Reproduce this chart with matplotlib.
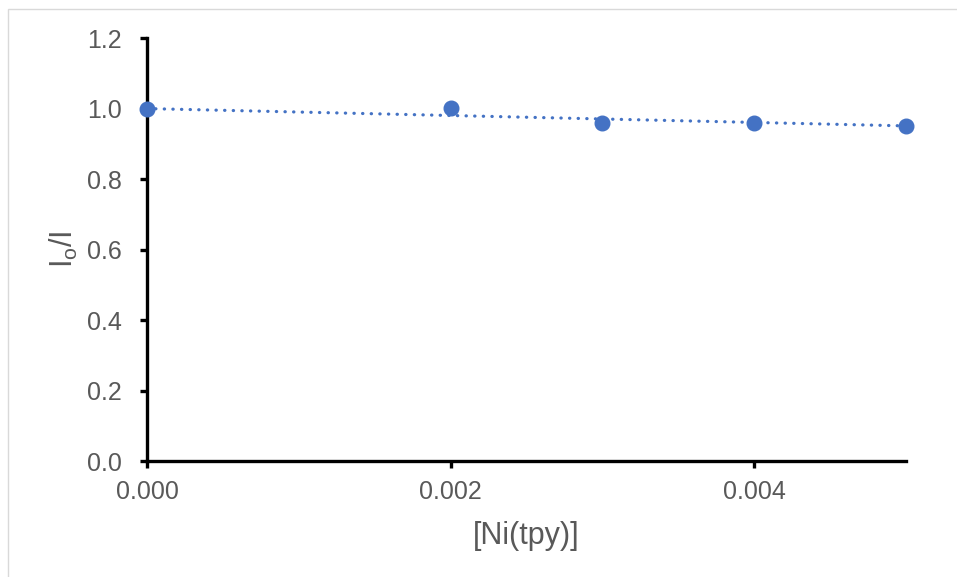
import numpy as np
import matplotlib
matplotlib.use("Agg")
import matplotlib.pyplot as plt
from matplotlib.patches import Rectangle

# data
conc = [0.000, 0.002, 0.003, 0.004, 0.005]
ratio = [1.000, 1.001, 0.960, 0.958, 0.951]
x_ticks = [0.000, 0.002, 0.004]
y_ticks = [0.0, 0.2, 0.4, 0.6, 0.8, 1.0, 1.2]

blue = "#4472C4"
grey = "#595959"

plt.rcParams['font.family'] = ['Liberation Sans', 'DejaVu Sans']

fig = plt.figure(figsize=(9.57, 5.77), dpi=100)
ax = fig.add_axes([0.1536, 0.201, 0.7931, 0.733])

# linear trendline, intercept fixed at 1 (Stern-Volmer style)
x = np.array(conc)
y = np.array(ratio)
slope = np.sum(x * (y - 1)) / np.sum(x * x)
xs = np.array([conc[0], conc[-1]])
ax.plot(xs, 1 + slope * xs, color=blue, linewidth=2.3,
        linestyle=(0, (0.1, 2.6)), dash_capstyle='round', zorder=2)

ax.plot(conc, ratio, 'o', color=blue, markersize=10.5, zorder=3,
        clip_on=False)

ax.set_xlim(0, 0.005)
ax.set_ylim(0, 1.2)
ax.set_xticks(x_ticks)
ax.set_xticklabels([f"{v:.3f}" for v in x_ticks])
ax.set_yticks(y_ticks)
ax.set_yticklabels([f"{v:.1f}" for v in y_ticks])

for s in ['top', 'right']:
    ax.spines[s].set_visible(False)
for s in ['left', 'bottom']:
    ax.spines[s].set_linewidth(2.4)
    ax.spines[s].set_color('black')

ax.tick_params(axis='both', direction='out', length=5, width=2.4,
               colors='black', labelcolor=grey, labelsize=18)
ax.tick_params(axis='x', pad=9)
ax.tick_params(axis='y', pad=13)

ax.set_xlabel("[Ni(tpy)]", fontsize=22, color=grey, labelpad=12)
ax.set_ylabel(r"I$_{\mathregular{o}}$/I", fontsize=22, color=grey, labelpad=5)

# chart-area border
fig.patches.append(Rectangle((8 / 957, -0.01), 1.0, (577 - 9) / 577 + 0.01,
                             transform=fig.transFigure, fill=False,
                             edgecolor='#D9D9D9', linewidth=1.0))

fig.savefig("out.png", dpi=100)
